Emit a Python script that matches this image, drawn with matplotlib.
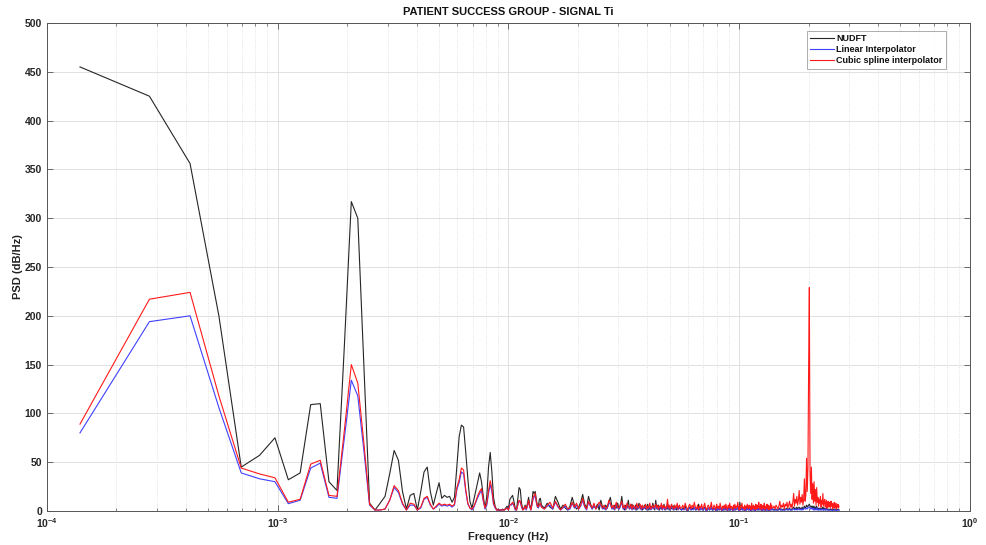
import numpy as np
import matplotlib
matplotlib.use("Agg")
import matplotlib.pyplot as plt
from matplotlib.ticker import LogLocator, NullFormatter

plt.rcParams['font.family'] = ['Liberation Sans', 'DejaVu Sans']
plt.rcParams['mathtext.fontset'] = 'custom'
plt.rcParams['mathtext.rm'] = 'Liberation Sans:bold'
plt.rcParams['mathtext.bf'] = 'Liberation Sans:bold'
plt.rcParams['mathtext.default'] = 'bf'

# ---------------- data ----------------
DF = 1.39e-4  # frequency resolution (Hz)

# bin indices of the plotted points
k_low = list(range(1, 101))
k_mid = list(range(103, 401, 3))
k_hi1 = list(range(405, 1001, 5))
k_hi2 = list(range(1010, 1951, 10))

nudft_low = [455,425,356,200,45,57,75,32,39,109,
             110,30,21,170,317,300,150,8,1,8,
             15,38,62,52,20,2,16,18,1,20,
             40,45,20,6,18,29,13,16,14,15,
             9,14,45,76,88,86,60,33,10,3,
             12,21,30,39,30,15,3,15,45,60,
             40,14,5,1,2,1,1,2,1,3,
             5,2,12,14,16,10,3,1,12,24,
             22,8,2,3,6,2,8,14,6,2,
             10,20,18,20,12,6,5,12,13,6]
linear_low = [80,194,200,106,39,33,30,7.5,11,44,
              49,14,13,75,134,118,62,6,1,1,
              2,11,24,19,7,1,6,6,1,3,
              12,14,6,2,4,7,5,6,5,6,
              4,6,22,29,40,38,20,7,3,1,
              4,9,14,18,21,10,2,6,18,27,
              20,7,3,1,1,0.5,1,1,1,2,
              3,1,7,6,8,5,1,1,6,10,
              9,4,1,2,4,1,5,10,4,1,
              6,12,14,16,9,4,3,6,7,4]
cubic_low = [89,217,224,118,44,38,34,9,12,48,
             52,16,15,83,150,131,70,7,1,1,
             2,11,26,21,8,1,8,7,1,4,
             13,15,7,2,5,8,6,7,6,7,
             5,7,24,32,44,42,22,8,3,2,
             5,10,16,20,23,11,3,8,21,31,
             23,8,4,1,1,1,1,1,1,2,
             3,1,6,7,9,6,2,1,6,11,
             10,5,1,2,5,2,6,11,5,1,
             7,14,16,18,10,5,4,7,8,4]

nudft_mid = [3,8,4,2,15,9,2,6,3,1,
             5,14,6,2,4,9,17,7,3,15,
             8,2,5,3,7,1,11,4,2,6,
             3,9,14,5,2,6,3,8,2,5,
             15,4,1,6,3,11,2,4,7,2,
             3,6,1,4,8,2,5,1,3,6,
             2,4,7,1,3,5,2,8,4,1,
             11,3,2,6,1,4,2,5,3,7,
             1,3,5,2,6,1,4,2,3,5,
             1,6,2,3,1,4,2,5,3,2]
linear_mid = [2,5,6,2,9,4,1,3,5,1,
              2,8,3,6,2,5,11,4,1,9,
              5,2,6,2,4,6,6,2,4,1,
              3,8,7,2,4,1,7,3,2,5,
              9,2,4,1,6,4,2,5,1,4,
              3,1,6,2,4,5,1,4,2,3,
              5,1,4,2,6,1,3,4,2,4,
              5,2,4,1,4,3,5,1,4,2,
              4,1,3,8,2,4,1,4,5,2,
              3,1,4,2,4,5,1,3,4,2]
cubic_mid = [2,6,9,3,10,5,1,4,7,2,
             3,9,4,8,2,6,13,5,2,10,
             6,3,8,2,5,9,7,3,6,2,
             4,11,8,3,6,2,9,4,3,7,
             10,3,6,2,8,5,3,7,2,6,
             4,2,8,3,5,7,2,6,3,4,
             7,2,5,3,8,2,4,6,3,5,
             7,3,6,2,5,4,8,2,6,3,
             5,2,4,12,3,6,2,5,7,3,
             4,2,6,3,5,8,2,4,6,3]

nudft_hi1 = [1,3,2,5,1,0,2,4,1,3,
             2,4,1,2,3,7,1,2,3,1,
             2,4,1,0,2,3,1,2,5,1,
             1,3,2,0,4,1,2,1,3,2,
             0,2,1,3,1,4,2,0,3,1,
             4,1,2,2,0,3,1,4,1,2,
             2,5,1,0,9,1,2,4,1,2,
             1,3,0,2,1,4,2,1,3,1,
             2,0,4,2,1,3,1,2,0,6,
             2,1,3,1,4,2,1,2,3,0,
             2,1,3,1,4,2,0,2,1,3,
             1,3,2,0,2,1,4,1,3,2]
linear_hi1 = [1,2,1,3,2,0,2,3,1,2,
              1,4,2,1,2,1,3,1,3,1,
              2,3,1,0,2,3,1,2,4,1,
              1,2,2,0,3,1,2,1,4,2,
              0,2,1,3,1,3,2,0,3,1,
              3,1,2,2,0,3,1,3,1,2,
              2,4,1,0,3,1,2,3,1,2,
              1,3,0,2,1,3,2,1,3,1,
              2,0,3,2,1,3,1,2,0,3,
              2,1,3,1,4,2,1,2,3,0,
              2,1,3,1,3,2,0,2,1,3,
              1,3,2,0,2,1,3,1,3,2]
cubic_hi1 = [3,6,2,8,4,1,5,7,2,6,
             3,9,4,2,6,1,5,3,7,2,
             4,8,3,1,5,6,2,4,9,3,
             2,6,4,1,7,3,5,2,8,4,
             1,5,3,6,2,7,4,1,6,3,
             8,2,5,4,1,6,3,7,2,5,
             4,9,3,1,6,2,5,8,3,4,
             2,6,1,5,3,7,4,2,6,3,
             5,1,8,4,2,6,3,5,1,7,
             4,2,6,3,9,5,2,4,7,1,
             5,3,6,2,8,4,1,5,3,7,
             2,6,4,1,5,3,8,2,6,4]

nudft_hi2 = [1,2,1,2,1,1,2,3,1,2,
             1,2,1,2,2,3,1,2,3,1,
             2,1,3,4,2,3,2,4,2,3,
             4,2,3,2,4,2,3,5,3,4,
             6,4,5,6,7,5,4,5,3,5,
             2,5,2,4,2,5,2,3,1,3,
             2,3,1,3,2,4,1,2,3,1,
             2,3,1,2,2,1,1,2,1,2,
             1,2,1,2,1,2,1,1,2,1,
             1,1,2,1,1]
linear_hi2 = [1,1,1,1,1,1,1,2,1,1,
              1,1,1,1,1,2,1,1,2,1,
              1,1,2,2,1,2,1,2,1,2,
              2,1,2,1,2,1,2,3,2,2,
              3,2,3,4,4,3,2,3,2,3,
              1,3,1,2,1,3,1,2,1,2,
              1,2,1,2,1,2,1,1,2,1,
              1,2,1,1,1,1,1,1,1,1,
              1,1,0,1,1,1,1,1,1,0,
              1,1,1,1,1]
cubic_hi2 = [3,5,2,6,4,2,5,10,3,6,
             4,8,2,7,5,9,3,6,10,4,
             7,3,9,18,5,12,8,15,6,11,
             21,7,14,9,17,6,12,33,10,16,
             54,20,44,150,229,40,18,45,12,28,
             8,30,10,22,6,24,9,14,5,12,
             8,15,4,11,7,18,5,9,12,4,
             8,11,3,7,10,4,6,9,3,10,
             5,8,2,7,4,9,3,6,8,2,
             6,4,7,3,5]

labels = ["NUDFT", "Linear Interpolator", "Cubic spline interpolator"]
title = "PATIENT SUCCESS GROUP - SIGNAL Ti"
xtick_vals = [1e-4, 1e-3, 1e-2, 1e-1, 1e0]
xtick_labels = [r"$10^{-4}$", r"$10^{-3}$", r"$10^{-2}$", r"$10^{-1}$", r"$10^{0}$"]
ytick_vals = list(range(0, 501, 50))

# ---------------- build ----------------
k_all = np.array(k_low + k_mid + k_hi1 + k_hi2, dtype=float)
freq = k_all * DF
nudft = np.array(nudft_low + nudft_mid + nudft_hi1 + nudft_hi2, dtype=float)
linear = np.array(linear_low + linear_mid + linear_hi1 + linear_hi2, dtype=float)
cubic = np.array(cubic_low + cubic_mid + cubic_hi1 + cubic_hi2, dtype=float)

fig = plt.figure(figsize=(9.87, 5.45), dpi=100)
ax = fig.add_axes([0.0476, 0.0624, 0.935, 0.8954])

ax.plot(freq, nudft, color=(0.15, 0.15, 0.15), lw=0.8, label=labels[0])
ax.plot(freq, linear, color=(0.25, 0.25, 1.0), lw=0.8, label=labels[1])
ax.plot(freq, cubic, color=(1.0, 0.1, 0.1), lw=0.8, label=labels[2])

ax.set_xscale('log')
ax.set_xlim(1e-4, 1)
ax.set_ylim(0, 500)
ax.set_xticks(xtick_vals)
ax.set_xticklabels(xtick_labels)
ax.xaxis.set_minor_locator(LogLocator(base=10, subs=np.arange(2, 10), numticks=20))
ax.xaxis.set_minor_formatter(NullFormatter())
ax.set_yticks(ytick_vals)

ax.grid(True, which='major', color='#dcdcdc', lw=0.6, ls='-')
ax.grid(True, which='minor', axis='x', color='#dcdcdc', lw=0.6, ls=':')
ax.set_axisbelow(True)

tick_color = '#262626'
ax.tick_params(which='both', direction='in', top=True, right=True,
               colors='#555555', labelcolor=tick_color, labelsize=7.5)
ax.tick_params(which='major', length=4, width=0.6)
ax.tick_params(which='minor', length=2.5, width=0.5)
for lab in ax.get_yticklabels():
    lab.set_fontweight('bold')
for s in ax.spines.values():
    s.set_color('#555555')
    s.set_linewidth(0.7)

ax.set_title(title, fontsize=8, fontweight='bold', color='#111111', pad=6)
ax.set_xlabel("Frequency (Hz)", fontsize=8, fontweight='bold', color='#222222', labelpad=2)
ax.set_ylabel("PSD (dB/Hz)", fontsize=8, fontweight='bold', color='#222222', labelpad=1)

leg = ax.legend(loc='upper right', bbox_to_anchor=(0.974, 0.984),
                prop={'weight': 'bold', 'size': 6.5}, frameon=True, fancybox=False,
                edgecolor='#888888', handlelength=2.6, handletextpad=0.3,
                borderpad=0.35, labelspacing=0.25, borderaxespad=0)
leg.get_frame().set_linewidth(0.6)
for t in leg.get_texts():
    t.set_color('#111111')

fig.savefig("out.png", dpi=100)
